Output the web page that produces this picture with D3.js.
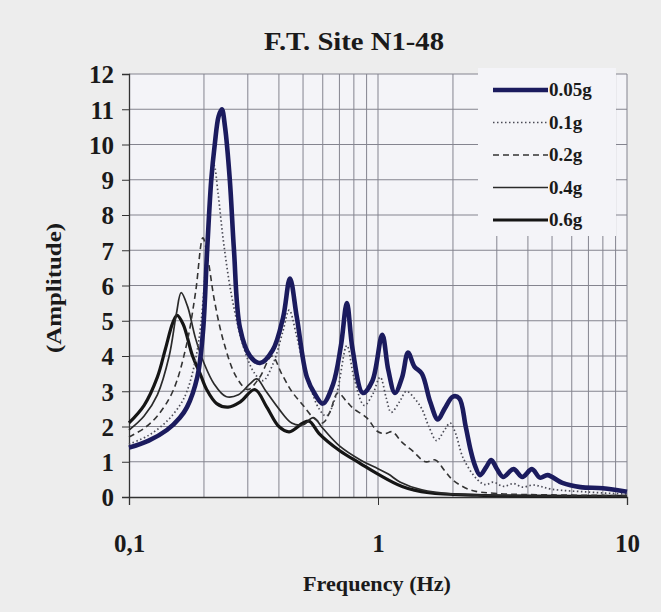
<!DOCTYPE html>
<html>
<head>
<meta charset="utf-8">
<script src="https://cdn.jsdelivr.net/npm/d3@7"></script>
<style>
  body { margin: 0; background: #ededed; }
  svg { display: block; }
  text { font-family: "Liberation Serif", "Times New Roman", serif; font-weight: bold; fill: #1a1a1a; }
</style>
</head>
<body>
<div id="chart"></div>
<script>
// series: frequency (Hz) / amplitude pairs
var f005 = [0.1, 0.12, 0.142, 0.16, 0.171, 0.188, 0.198, 0.206, 0.214, 0.221, 0.229, 0.236, 0.243, 0.254, 0.264, 0.279, 0.306, 0.336, 0.378, 0.416, 0.443, 0.472, 0.518, 0.56, 0.6, 0.66, 0.71, 0.75, 0.79, 0.87, 0.95, 1.04, 1.1, 1.17, 1.25, 1.32, 1.4, 1.5, 1.62, 1.74, 1.85, 2.0, 2.12, 2.25, 2.36, 2.45, 2.57, 2.72, 2.85, 3.0, 3.18, 3.5, 3.8, 4.15, 4.47, 4.8, 5.5, 6.5, 8, 10];
var a005 = [1.4, 1.6, 1.9, 2.25, 2.55, 3.4, 4.65, 7.0, 9.0, 10.0, 10.8, 11.0, 10.5, 9.0, 7.0, 4.8, 4.0, 3.8, 4.17, 5.1, 6.2, 5.1, 3.4, 2.9, 2.65, 3.2, 4.3, 5.5, 4.2, 2.95, 3.3, 4.6, 3.6, 2.95, 3.4, 4.1, 3.7, 3.5, 2.7, 2.2, 2.5, 2.85, 2.8, 2.0, 1.3, 0.9, 0.62, 0.85, 1.05, 0.8, 0.57, 0.79, 0.57, 0.79, 0.55, 0.62, 0.4, 0.28, 0.25, 0.15];

var f01 = [0.1, 0.12, 0.142, 0.16, 0.171, 0.185, 0.195, 0.205, 0.213, 0.22, 0.228, 0.24, 0.26, 0.29, 0.32, 0.345, 0.38, 0.415, 0.44, 0.47, 0.5, 0.53, 0.58, 0.62, 0.68, 0.75, 0.8, 0.88, 0.95, 1.02, 1.08, 1.13, 1.22, 1.3, 1.4, 1.5, 1.6, 1.72, 1.85, 1.95, 2.05, 2.2, 2.5, 2.7, 2.9, 3.2, 3.5, 3.8, 4.2, 5, 7, 10];
var a01 = [1.5, 1.75, 2.15, 2.6, 3.0, 3.9, 5.0, 7.0, 8.6, 9.4, 8.6, 7.2, 5.6, 4.2, 3.5, 3.3, 3.8, 4.7, 5.3, 4.6, 3.8, 3.2, 2.5, 2.3, 2.9, 4.3, 3.4, 2.6, 2.9, 3.4, 2.8, 2.4, 2.7, 3.0, 2.8, 2.5, 2.0, 1.6, 1.9, 2.1, 1.8, 1.1, 0.5, 0.35, 0.42, 0.3, 0.38, 0.28, 0.34, 0.22, 0.14, 0.08];

var f02 = [0.1, 0.115, 0.13, 0.15, 0.17, 0.185, 0.198, 0.208, 0.22, 0.24, 0.27, 0.3, 0.335, 0.375, 0.41, 0.45, 0.5, 0.55, 0.6, 0.64, 0.69, 0.75, 0.8, 0.9, 1.0, 1.07, 1.14, 1.25, 1.38, 1.55, 1.7, 1.85, 2.0, 2.35, 3, 5, 10];
var a02 = [1.7, 1.95, 2.3, 3.0, 4.3, 5.8, 7.35, 6.7, 5.6, 4.4, 3.4, 3.05, 3.4, 4.0, 3.5, 3.0, 2.6, 2.25, 2.1, 2.4, 2.95, 2.7, 2.5, 2.25, 1.85, 1.8, 1.85, 1.55, 1.3, 1.0, 1.05, 0.75, 0.48, 0.2, 0.1, 0.06, 0.04];

var f04 = [0.1, 0.115, 0.13, 0.145, 0.155, 0.162, 0.172, 0.185, 0.2, 0.22, 0.245, 0.275, 0.305, 0.326, 0.355, 0.4, 0.45, 0.5, 0.55, 0.6, 0.7, 0.85, 1.0, 1.1, 1.23, 1.5, 2, 3, 10];
var a04 = [1.9, 2.3, 2.9, 4.0, 5.2, 5.8, 5.4, 4.5, 3.8, 3.2, 2.85, 2.9, 3.2, 3.35, 3.0, 2.5, 2.1, 2.05, 2.25, 1.95, 1.45, 1.05, 0.8, 0.65, 0.42, 0.2, 0.08, 0.04, 0.02];

var f06 = [0.1, 0.115, 0.13, 0.14, 0.15, 0.156, 0.165, 0.18, 0.193, 0.205, 0.225, 0.25, 0.28, 0.32, 0.357, 0.4, 0.44, 0.5, 0.53, 0.58, 0.7, 0.85, 1.0, 1.25, 1.6, 2.5, 10];
var a06 = [2.1, 2.6, 3.4, 4.2, 4.95, 5.15, 4.9, 4.0, 3.5, 3.05, 2.65, 2.55, 2.7, 3.05, 2.56, 2.0, 1.85, 2.1, 2.15, 1.8, 1.32, 0.95, 0.65, 0.3, 0.12, 0.05, 0.02];

var seriesNames = ["0.05g", "0.1g", "0.2g", "0.4g", "0.6g"];
var yTicks = [0, 1, 2, 3, 4, 5, 6, 7, 8, 9, 10, 11, 12];
var xTickLabels = ["0,1", "1", "10"];

var W = 661, H = 612;
var margin = {top: 74, right: 34, bottom: 115, left: 129};
var width = W - margin.left - margin.right,
    height = H - margin.top - margin.bottom;

var svg = d3.select("#chart").append("svg")
  .attr("width", W)
  .attr("height", H);

svg.append("rect").attr("width", W).attr("height", H).attr("fill", "#ededed");

var g = svg.append("g")
  .attr("transform", "translate(" + margin.left + "," + margin.top + ")");

var x = d3.scaleLog().domain([0.1, 10]).range([0, width]);
var y = d3.scaleLinear().domain([0, 12]).range([height, 0]);

// plot background
g.append("rect").attr("width", width).attr("height", height).attr("fill", "#f4f4f8");

// grid
var minorF = [];
[0.1, 1].forEach(function(d) { for (var k = 2; k <= 10; k++) minorF.push(d * k); });
g.append("g").selectAll("line").data(minorF).enter().append("line")
  .attr("x1", function(d) { return x(d); }).attr("x2", function(d) { return x(d); })
  .attr("y1", 0).attr("y2", height)
  .attr("stroke", "#84848f").attr("stroke-width", 1);
g.append("g").selectAll("line").data(yTicks.slice(1)).enter().append("line")
  .attr("x1", 0).attr("x2", width)
  .attr("y1", function(d) { return y(d); }).attr("y2", function(d) { return y(d); })
  .attr("stroke", "#84848f").attr("stroke-width", 1);

// legend box hides the grid behind it
g.append("rect")
  .attr("x", 349).attr("y", -6).attr("width", 138).attr("height", 168)
  .attr("fill", "#f4f4f8");

// axes
var yAxis = g.append("g").call(d3.axisLeft(y).tickValues(yTicks).tickSize(7).tickPadding(8).tickFormat(d3.format("d")));
yAxis.select(".domain").attr("stroke", "#333").attr("stroke-width", 1.3);
yAxis.selectAll(".tick line").attr("stroke", "#333");
yAxis.selectAll("text").style("font-size", "25px").attr("dy", "0.35em").attr("fill", "#1a1a1a");

var xAxis = g.append("g").attr("transform", "translate(0," + height + ")")
  .call(d3.axisBottom(x).tickValues([0.1, 1, 10]).tickSize(8).tickPadding(29)
    .tickFormat(function(d, i) { return xTickLabels[i]; }));
xAxis.select(".domain").attr("stroke", "#333").attr("stroke-width", 1.3);
xAxis.selectAll(".tick line").attr("stroke", "#333");
xAxis.selectAll("text").style("font-size", "25px").attr("fill", "#1a1a1a");

// curves
var line = d3.line()
  .x(function(d) { return x(d[0]); })
  .y(function(d) { return y(d[1]); })
  .curve(d3.curveCatmullRom.alpha(0.5));

var series = [
  {f: f06, a: a06, color: "#151515", w: 3.2, dash: null},
  {f: f04, a: a04, color: "#2a2a2a", w: 1.7, dash: null},
  {f: f02, a: a02, color: "#333333", w: 1.6, dash: "6,4"},
  {f: f01, a: a01, color: "#4a4a55", w: 1.7, dash: "1.5,2.5"},
  {f: f005, a: a005, color: "#1b1b5e", w: 4.6, dash: null}
];

series.forEach(function(s) {
  var pts = s.f.map(function(f, i) { return [f, s.a[i]]; });
  g.append("path")
    .datum(pts)
    .attr("d", line)
    .attr("fill", "none")
    .attr("stroke", s.color)
    .attr("stroke-width", s.w)
    .attr("stroke-linejoin", "round")
    .attr("stroke-dasharray", s.dash);
});

// legend
var legStyle = [
  {color: "#1b1b5e", w: 4.6, dash: null},
  {color: "#4a4a55", w: 1.7, dash: "1.5,2.5"},
  {color: "#333333", w: 1.6, dash: "6,4"},
  {color: "#2a2a2a", w: 1.7, dash: null},
  {color: "#151515", w: 3.2, dash: null}
];
var leg = g.append("g").attr("transform", "translate(364,16)");
seriesNames.forEach(function(name, i) {
  var row = leg.append("g").attr("transform", "translate(0," + (i * 32.5) + ")");
  row.append("line").attr("x1", 0).attr("x2", 55).attr("y1", 0).attr("y2", 0)
    .attr("stroke", legStyle[i].color).attr("stroke-width", legStyle[i].w)
    .attr("stroke-dasharray", legStyle[i].dash);
  row.append("text").attr("x", 56).attr("y", 6).style("font-size", "19px").text(name);
});

// titles
svg.append("text")
  .attr("x", 354).attr("y", 50)
  .attr("text-anchor", "middle")
  .attr("textLength", 180).attr("lengthAdjust", "spacingAndGlyphs")
  .style("font-size", "26px")
  .text("F.T. Site N1-48");

svg.append("text")
  .attr("x", 377).attr("y", 591)
  .attr("text-anchor", "middle")
  .attr("textLength", 148).attr("lengthAdjust", "spacingAndGlyphs")
  .style("font-size", "21px")
  .text("Frequency (Hz)");

svg.append("text")
  .attr("text-anchor", "middle")
  .attr("transform", "translate(61,288) rotate(-90)")
  .attr("textLength", 130).attr("lengthAdjust", "spacingAndGlyphs")
  .style("font-size", "20px")
  .text("(Amplitude)");
</script>
</body>
</html>
